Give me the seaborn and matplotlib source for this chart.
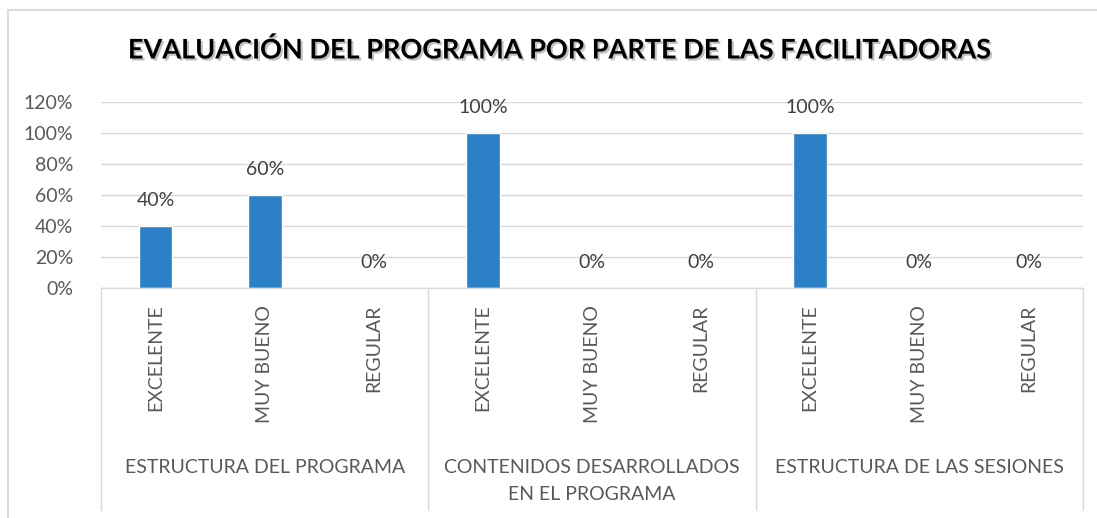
import matplotlib
matplotlib.use("Agg")
import matplotlib.pyplot as plt
import matplotlib.patheffects as pe
from matplotlib.lines import Line2D
import matplotlib.transforms as mtransforms
import seaborn as sns
import pandas as pd

# Data
groups = ["ESTRUCTURA DEL PROGRAMA",
          "CONTENIDOS DESARROLLADOS\nEN EL PROGRAMA",
          "ESTRUCTURA DE LAS SESIONES"]
ratings = ["EXCELENTE", "MUY BUENO", "REGULAR"]
values_estructura = [0.40, 0.60, 0.00]
values_contenidos = [1.00, 0.00, 0.00]
values_sesiones = [1.00, 0.00, 0.00]
title = "EVALUACIÓN DEL PROGRAMA POR PARTE DE LAS FACILITADORAS"

all_values = values_estructura + values_contenidos + values_sesiones
df = pd.DataFrame({
    "pos": list(range(len(all_values))),
    "group": [g for g in groups for _ in ratings],
    "rating": ratings * len(groups),
    "value": all_values,
})

sns.set_style("white")
plt.rcParams["font.family"] = ["Lato", "DejaVu Sans"]

BAR = "#2B80C8"
GRID = "#D9D9D9"
TXT = "#595959"

fig = plt.figure(figsize=(10.97, 5.18), dpi=100)
ax = fig.add_axes([101 / 1097, 1 - 288 / 518, (1083 - 101) / 1097, (288 - 102) / 518])

sns.barplot(data=df, x="pos", y="value", color=BAR, width=0.31, ax=ax,
            order=list(range(len(all_values))), saturation=1)

ax.set_ylim(0, 1.2)
ax.set_xlim(-0.5, len(all_values) - 0.5)
ax.set_yticks([0, 0.2, 0.4, 0.6, 0.8, 1.0, 1.2])
ax.set_yticklabels([f"{int(round(v * 100))}%" for v in ax.get_yticks()],
                   fontsize=14, color=TXT)
ax.tick_params(axis="y", length=0, pad=20)
ax.set_xticks([])
ax.set_xlabel("")
ax.set_ylabel("")
ax.yaxis.grid(True, color=GRID, lw=1)
ax.set_axisbelow(True)
for s in ["left", "right", "top"]:
    ax.spines[s].set_visible(False)
ax.spines["bottom"].set_color(GRID)
ax.spines["bottom"].set_linewidth(1)

# data labels
for x, v in zip(df["pos"], df["value"]):
    ax.annotate(f"{int(round(v * 100))}%", (x, v), xytext=(0, 12),
                textcoords="offset points", ha="center", va="bottom",
                fontsize=14, color="#404040")

# multi-level category axis
trans = mtransforms.blended_transform_factory(ax.transData, ax.transAxes)
for x, r in zip(df["pos"], df["rating"]):
    ax.text(x, -0.09, r, transform=trans, rotation=90, ha="center", va="top",
            fontsize=14, color=TXT)
for i, g in enumerate(groups):
    ax.text(i * 3 + 1, -0.92, g, transform=trans, ha="center", va="top",
            fontsize=14, color=TXT, linespacing=1.7)
for b in [-0.5, 2.5, 5.5, 8.5]:
    ax.add_line(Line2D([b, b], [0, -1.194], transform=trans, color=GRID,
                       lw=1, clip_on=False))

fig.text(0.51, 0.9035, title, ha="center", va="center", fontsize=19.5,
         fontweight="bold", color="black",
         path_effects=[pe.withSimplePatchShadow(offset=(1.5, -1.5),
                                                shadow_rgbFace="#999999",
                                                alpha=0.6)])

# chart border (left and top)
fig.add_artist(Line2D([8 / 1097, 8 / 1097], [0, 1 - 10 / 518],
                      transform=fig.transFigure, color=GRID, lw=1.5))
fig.add_artist(Line2D([8 / 1097, 1], [1 - 10 / 518, 1 - 10 / 518],
                      transform=fig.transFigure, color=GRID, lw=1.5))

fig.savefig("out.png", dpi=100)
